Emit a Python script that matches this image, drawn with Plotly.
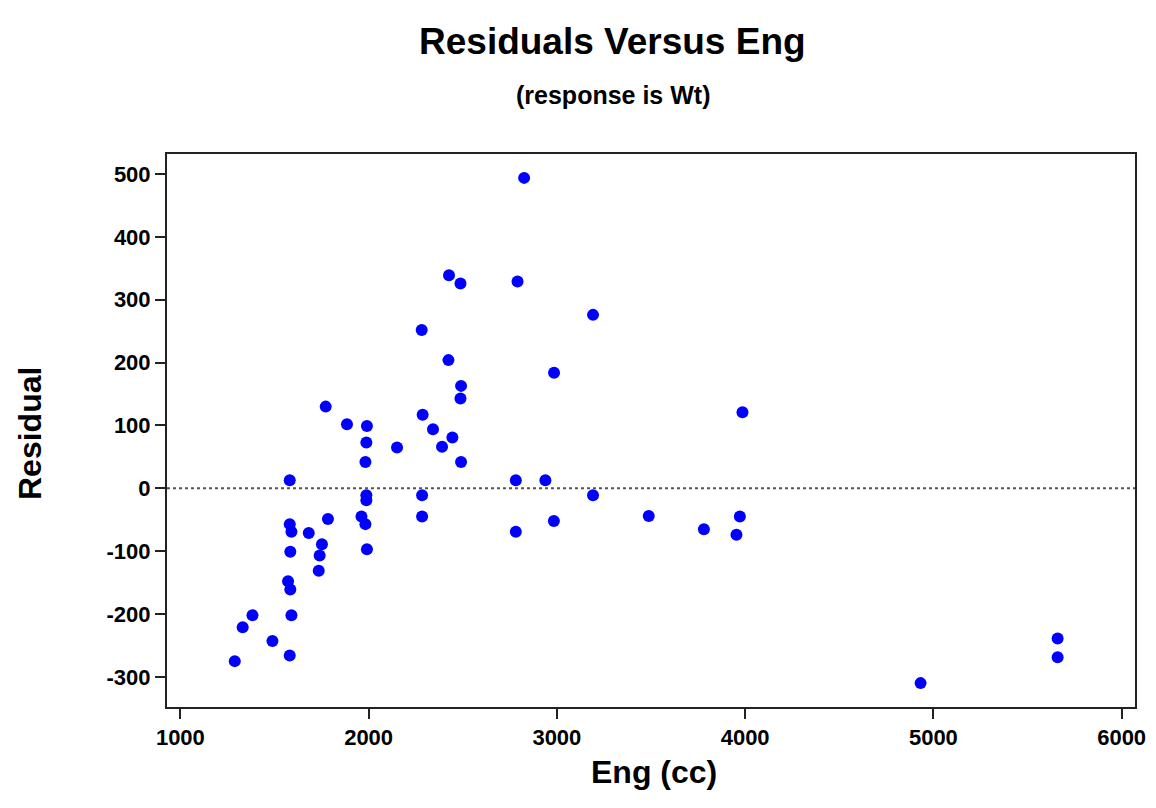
import plotly.graph_objects as go

eng_cc = [2826, 2427, 2488, 2791, 2282, 2424, 2491, 2488, 2985, 3192,
          3986, 3192, 3488, 3781, 3972, 3954, 4932, 5660, 5660, 1772,
          1885, 1991, 1988, 1983, 2151, 2287, 2342, 2390, 2445, 2491,
          1581, 2782, 2939, 2782, 2984, 2284, 2284, 1988, 1988, 1962,
          1983, 1991, 1784, 1682, 1581, 1590, 1584, 1752, 1740, 1735,
          1572, 1584, 1590, 1383, 1331, 1489, 1581, 1289]
residual = [494, 339, 326, 329, 252, 204, 163, 143, 184, 276,
            121, -11, -44, -65, -45, -74, -310, -239, -269, 130,
            102, 99, 73, 42, 65, 117, 94, 66, 81, 42,
            13, 13, 13, -69, -52, -11, -45, -11, -19, -45,
            -57, -97, -49, -71, -57, -69, -101, -89, -107, -131,
            -148, -161, -202, -202, -221, -243, -266, -275]

x_ticks = [1000, 2000, 3000, 4000, 5000, 6000]
y_ticks = [-300, -200, -100, 0, 100, 200, 300, 400, 500]

FONT = "Liberation Sans, Arial, sans-serif"

# page body has an 8px default margin, so figure is 8px smaller
W, H = 1148, 800
L, T = 159, 146
PW, PH = 968, 553

fig = go.Figure()
fig.add_trace(go.Scatter(
    x=eng_cc, y=residual, mode="markers",
    marker=dict(color="#0000FF", size=12, line=dict(width=0)),
    showlegend=False, hoverinfo="x+y",
))

fig.add_shape(type="line", xref="paper", yref="y", x0=0, x1=1, y0=0, y1=0,
              line=dict(color="#555555", width=2, dash="dot"))


def py(pix_y):
    # screen y (reference px) -> paper y
    return (154 + PH - pix_y) / PH


def px(pix_x):
    return (pix_x - 167) / PW


fig.update_layout(
    width=W, height=H,
    margin=dict(l=L, r=W - L - PW, t=T, b=H - T - PH, autoexpand=False),
    paper_bgcolor="white", plot_bgcolor="white",
    font=dict(family=FONT, color="black"),
    annotations=[
        dict(text="Residuals Versus Eng", xref="paper", yref="paper",
             x=px(612), y=py(41), xanchor="center", yanchor="middle",
             showarrow=False, font=dict(size=37, weight="bold", family=FONT)),
        dict(text="(response is Wt)", xref="paper", yref="paper",
             x=px(613), y=py(95), xanchor="center", yanchor="middle",
             showarrow=False, font=dict(size=25, weight="bold", family=FONT)),
        dict(text="Eng (cc)", xref="paper", yref="paper",
             x=px(654), y=py(772), xanchor="center", yanchor="middle",
             showarrow=False, font=dict(size=32, weight="bold", family=FONT)),
        dict(text="Residual", xref="paper", yref="paper", textangle=-90,
             x=px(30), y=py(434), xanchor="center", yanchor="middle",
             showarrow=False, font=dict(size=32, weight="bold", family=FONT)),
    ],
)

fig.update_xaxes(
    range=[929, 6071], tickvals=x_ticks, ticktext=[str(v) for v in x_ticks],
    showgrid=False, zeroline=False, showline=True, linecolor="#222222", linewidth=2,
    mirror=True, ticks="outside", ticklen=10, tickwidth=2, tickcolor="#222222",
    tickfont=dict(size=22, weight="bold", family=FONT), automargin=False,
)
fig.update_yaxes(
    range=[-348, 532], tickvals=y_ticks, ticktext=[str(v) for v in y_ticks],
    showgrid=False, zeroline=False, showline=True, linecolor="#222222", linewidth=2,
    mirror=True, ticks="outside", ticklen=10, tickwidth=2, tickcolor="#222222",
    tickfont=dict(size=22, weight="bold", family=FONT), automargin=False,
)

fig.write_html("out.html")
